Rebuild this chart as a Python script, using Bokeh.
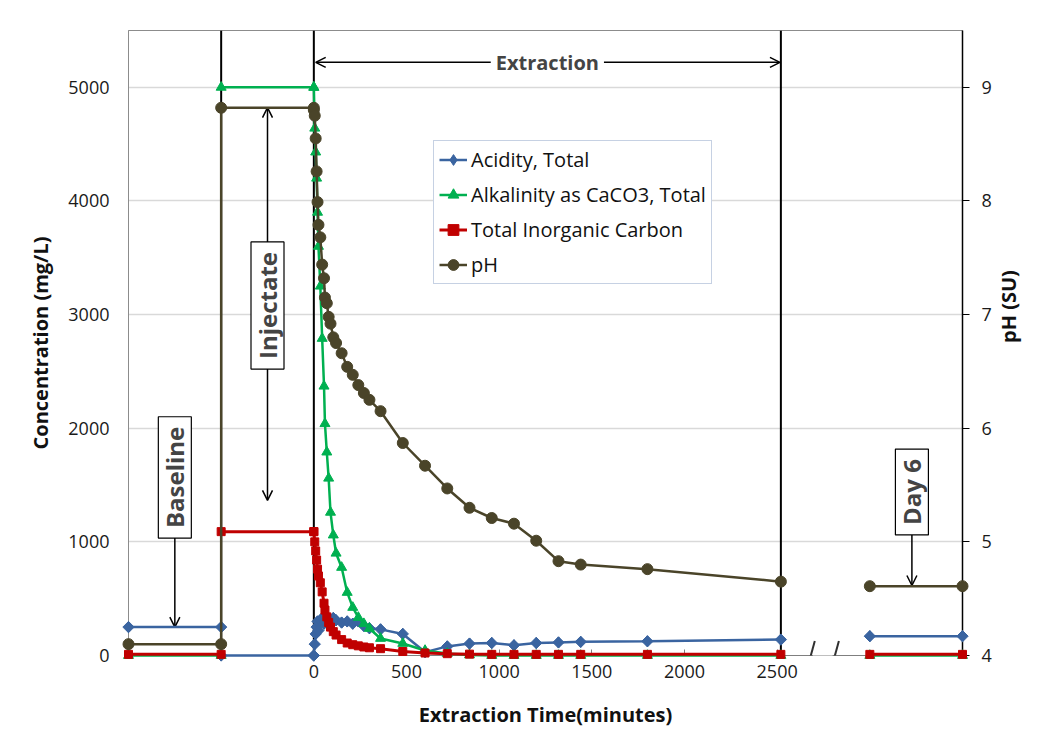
import math
from bokeh.plotting import figure
from bokeh.models import (Range1d, LinearAxis, FixedTicker, Span, Arrow, OpenHead,
                          Label, Legend, LegendItem)
from bokeh.embed import file_html
from bokeh.resources import INLINE

FONT = "Open Sans"

# ---------------- data ----------------
baseline_time = [-1000, -500]
injectate_time = [-500, 0]
day6_time = [3000, 3500]
extraction_time = [0, 5, 10, 15, 20, 25, 35, 45, 55, 60, 70, 80, 90, 105, 120, 150,
                   180, 210, 240, 270, 300, 360, 480, 600, 720, 840, 960, 1080, 1200,
                   1320, 1440, 1800, 2520]

acidity_baseline = [250, 250]
acidity_injectate = [0, 0]
acidity_extraction = [0, 100, 190, 250, 300, 220, 310, 330, 280, 300, 320, 300, 310, 330,
                      310, 290, 300, 280, 300, 260, 240, 230, 190, 30, 80, 105, 110, 90,
                      110, 115, 120, 125, 140]
acidity_day6 = [170, 170]

alkalinity_baseline = [0, 0]
alkalinity_injectate = [5000, 5000]
alkalinity_extraction = [5000, 4640, 4430, 4200, 3900, 3600, 3250, 2790, 2370, 2040, 1790,
                         1560, 1260, 1060, 900, 775, 555, 423, 335, 280, 238, 150, 106, 44,
                         18, 5, 0, 0, 0, 0, 0, 0, 0]
alkalinity_day6 = [0, 0]

tic_baseline = [10, 10]
tic_injectate = [1090, 1090]
tic_extraction = [1090, 1000, 920, 840, 760, 700, 640, 560, 460, 400, 340, 290, 250, 210,
                  180, 140, 110, 95, 85, 75, 68, 60, 35, 22, 16, 12, 10, 10, 10, 10, 10,
                  10, 10]
tic_day6 = [10, 10]

ph_baseline = [4.1, 4.1]
ph_injectate = [8.82, 8.82]
ph_extraction = [8.80, 8.75, 8.55, 8.26, 7.99, 7.79, 7.68, 7.44, 7.32, 7.15, 7.10, 6.98,
                 6.92, 6.80, 6.75, 6.66, 6.54, 6.47, 6.38, 6.31, 6.25, 6.15, 5.87, 5.67,
                 5.47, 5.30, 5.21, 5.16, 5.01, 4.83, 4.80, 4.76, 4.65]
ph_day6 = [4.61, 4.61]

x_ticks = [0, 500, 1000, 1500, 2000, 2500]
conc_ticks = [0, 1000, 2000, 3000, 4000, 5000]
ph_ticks = [4, 5, 6, 7, 8, 9]
phase_bounds = [-500, 0, 2520]          # vertical phase boundary lines
axis_break = [2681, 2811]               # centres of the two axis-break marks

series_labels = ["Acidity, Total", "Alkalinity as CaCO3, Total",
                 "Total Inorganic Carbon", "pH"]

# ---------------- figure ----------------
p = figure(width=1038, height=731, x_range=Range1d(-1000, 3500), y_range=Range1d(0, 5500),
           output_backend="svg", toolbar_location=None,
           min_border_left=128, min_border_right=75, min_border_top=30, min_border_bottom=76)
p.extra_y_ranges = {"ph": Range1d(4, 9.5)}
p.background_fill_color = "white"
p.border_fill_color = "white"
p.outline_line_color = "#8c8c8c"
p.outline_line_width = 1

p.xgrid.visible = False
p.ygrid.ticker = FixedTicker(ticks=conc_ticks)
p.ygrid.grid_line_color = "#d9d9d9"
p.ygrid.grid_line_width = 1.5

xa = p.xaxis[0]
xa.ticker = FixedTicker(ticks=x_ticks)
xa.major_tick_in = 6
xa.major_tick_out = 0
xa.minor_tick_line_color = None
xa.axis_line_color = "#7f7f7f"
xa.major_tick_line_color = "#7f7f7f"
xa.major_label_standoff = 9
xa.axis_label = "Extraction Time(minutes)"
xa.axis_label_standoff = 20

ya = p.yaxis[0]
ya.ticker = FixedTicker(ticks=conc_ticks)
ya.major_tick_in = 0
ya.major_tick_out = 0
ya.minor_tick_line_color = None
ya.axis_line_color = "#8c8c8c"
ya.major_label_standoff = 19
ya.axis_label = "Concentration (mg/L)"
ya.axis_label_standoff = 11

ra = LinearAxis(y_range_name="ph", ticker=FixedTicker(ticks=ph_ticks))
ra.major_tick_in = 0
ra.major_tick_out = 7
ra.minor_tick_line_color = None
ra.axis_line_color = "black"
ra.axis_line_width = 1.5
ra.major_tick_line_color = "black"
ra.major_label_standoff = 12
ra.axis_label = "pH (SU)"
ra.axis_label_standoff = 14
ra.axis_label_orientation = math.pi / 2
p.add_layout(ra, "right")

for ax in [xa, ya, ra]:
    ax.major_label_text_font = FONT
    ax.major_label_text_font_size = "18px"
    ax.major_label_text_color = "#1a1a1a"
    ax.axis_label_text_font = FONT
    ax.axis_label_text_font_size = "20px"
    ax.axis_label_text_font_style = "bold"
    ax.axis_label_text_color = "#111111"

# phase boundary lines (under the data)
for b in phase_bounds:
    p.add_layout(Span(location=b, dimension="height", line_color="black",
                      line_width=2, level="underlay"))

# ---------------- series ----------------
colors = ["#3A64A0", "#00B050", "#C00000", "#4A4429"]
series = [
    (acidity_baseline, acidity_injectate, acidity_extraction, acidity_day6),
    (alkalinity_baseline, alkalinity_injectate, alkalinity_extraction, alkalinity_day6),
    (tic_baseline, tic_injectate, tic_extraction, tic_day6),
    (ph_baseline, ph_injectate, ph_extraction, ph_day6),
]
markers = [dict(marker="square", size=8, angle=math.pi / 4),
           dict(marker="triangle", size=10),
           dict(marker="square", size=8),
           dict(marker="circle", size=11)]
line_widths = [2.5, 2.5, 3, 2.5]

legend_items = []
for i, (base, inj, ext, d6) in enumerate(series):
    rng = "ph" if i == 3 else "default"
    c = colors[i]
    if i == 3:
        segs = [(baseline_time + injectate_time + extraction_time, base + inj + ext),
                (day6_time, d6)]
    else:
        segs = [(baseline_time, base), (injectate_time + extraction_time, inj + ext),
                (day6_time, d6)]
    first_line = None
    for xs, ys in segs:
        lr = p.line(xs, ys, line_color=c, line_width=line_widths[i], y_range_name=rng,
                    level="overlay")
        if first_line is None:
            first_line = lr
    all_x = baseline_time + injectate_time + extraction_time + day6_time
    all_y = base + inj + ext + d6
    if i == 0:
        # diamond swatch for the legend; hidden beneath the rotated squares
        sw = p.scatter(all_x, all_y, marker="diamond", size=11, fill_color=c,
                       line_color=c, level="overlay")
    sr = p.scatter(all_x, all_y, fill_color=c, line_color=c, y_range_name=rng,
                   level="overlay", **markers[i])
    legend_items.append(LegendItem(label=series_labels[i],
                                   renderers=[first_line, sw if i == 0 else sr]))

# ---------------- annotations ----------------
head = lambda: OpenHead(size=10, line_width=1.5, line_color="black")

# axis break
p.add_layout(Arrow(start=None, end=None, x_start=axis_break[0] + 12, y_start=0,
                   x_end=axis_break[1] - 12, y_end=0, line_color="white", line_width=4,
                   level="overlay"))
for bx in axis_break:
    p.add_layout(Arrow(start=None, end=None, x_start=bx - 22, y_start=-135,
                       x_end=bx + 22, y_end=128, line_color="#303030", line_width=2,
                       level="overlay"))

# Extraction double arrow
p.add_layout(Arrow(start=head(), end=head(), x_start=10, y_start=5220, x_end=2515,
                   y_end=5220, line_color="black", line_width=1.5))
p.add_layout(Label(x=1260, y=5220, text="Extraction", text_align="center",
                   text_baseline="middle", text_font=FONT, text_font_size="20px",
                   text_font_style="bold", background_fill_color="white", padding=5))

box_pad = {"left": 10, "right": 10, "top": 0, "bottom": 0}
box_font = "24px"
# Injectate
p.add_layout(Arrow(end=head(), x_start=-250, y_start=3080, x_end=-250, y_end=4822,
                   line_color="black", line_width=1.5))
p.add_layout(Arrow(end=head(), x_start=-250, y_start=3080, x_end=-250, y_end=1365,
                   line_color="black", line_width=1.5))
p.add_layout(Label(x=-250, y=3080, text="Injectate", angle=90, angle_units="deg",
                   text_align="center", text_baseline="middle", text_font=FONT,
                   text_font_size=box_font, text_font_style="bold",
                   background_fill_color="white", border_line_color="black",
                   border_line_width=1.2, padding=box_pad))

# Baseline
p.add_layout(Arrow(end=head(), x_start=-750, y_start=1567, x_end=-750, y_end=250,
                   line_color="black", line_width=1.5))
p.add_layout(Label(x=-750, y=1567, text="Baseline", angle=90, angle_units="deg",
                   text_align="center", text_baseline="middle", text_font=FONT,
                   text_font_size=box_font, text_font_style="bold",
                   background_fill_color="white", border_line_color="black",
                   border_line_width=1.2, padding=box_pad))

# Day 6
p.add_layout(Arrow(end=head(), x_start=3227, y_start=1439, x_end=3227, y_end=616,
                   line_color="black", line_width=1.5))
p.add_layout(Label(x=3227, y=1439, text="Day 6", angle=90, angle_units="deg",
                   text_align="center", text_baseline="middle", text_font=FONT,
                   text_font_size=box_font, text_font_style="bold",
                   background_fill_color="white", border_line_color="black",
                   border_line_width=1.2, padding=box_pad))

# ---------------- legend ----------------
legend = Legend(items=legend_items, location=(305, 371), margin=0, padding=5,
                spacing=8, label_height=27, glyph_height=27, glyph_width=28,
                label_standoff=4, label_text_font=FONT, label_text_font_size="20px",
                label_text_color="#111111", border_line_color="#8EA4C8",
                border_line_width=1.2, background_fill_color="white",
                background_fill_alpha=1.0)
p.add_layout(legend)

open("out.html", "w").write(file_html(p, INLINE))
